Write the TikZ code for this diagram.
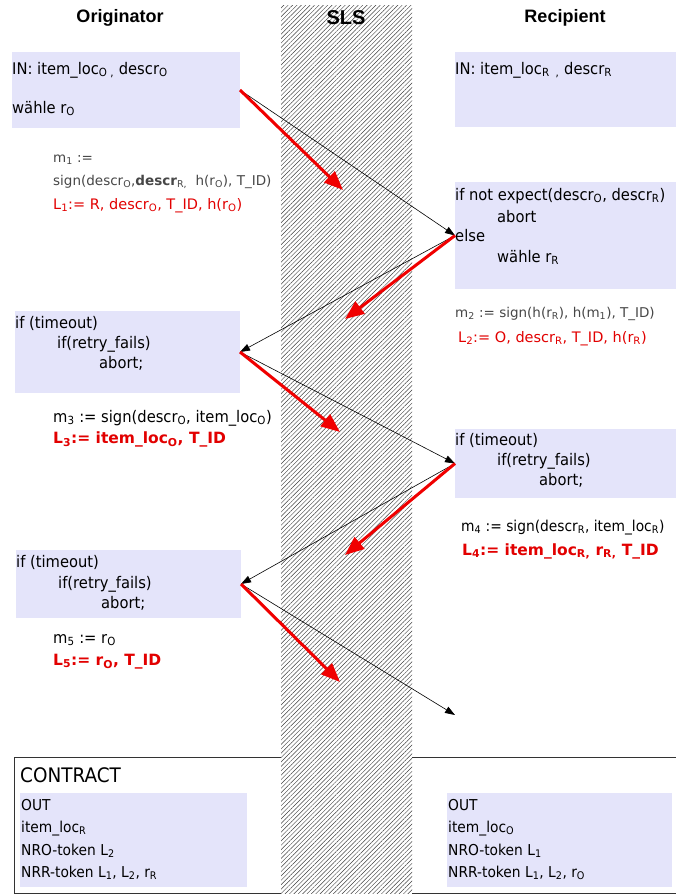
\documentclass[tikz,border=0pt]{standalone}
\usepackage{fontspec}
\setmainfont{DejaVu Sans}[FakeStretch=0.92]
\newfontfamily\verd{DejaVu Sans}
\newfontfamily\titlef{Liberation Sans}
\usetikzlibrary{arrows.meta,patterns.meta}
\definecolor{lav}{RGB}{228,228,250}
\definecolor{redtxt}{RGB}{226,0,0}
\definecolor{redarr}{RGB}{240,0,0}
\newcommand\sbs[1]{\textsubscript{#1}}
\begin{document}
\begin{tikzpicture}[x=1pt,y=-1pt,
  box/.style={fill=lav, inner sep=0pt, outer sep=0pt},
  txt/.style={anchor=base west, inner sep=0pt, font=\fontsize{16}{20}\selectfont},
  mtxt/.style={anchor=base west, inner sep=0pt, font=\verd\fontsize{13.5}{16}\selectfont, text=black!72},
  ltxt/.style={anchor=base west, inner sep=0pt, font=\verd\fontsize{14.5}{18}\selectfont, text=redtxt},
  lbold/.style={anchor=base west, inner sep=0pt, font=\verd\bfseries\fontsize{15.5}{18}\selectfont, text=redtxt},
  title/.style={anchor=base, inner sep=0pt, font=\titlef\bfseries\fontsize{18}{22}\selectfont},
  msg/.style={-{Triangle[length=10pt,width=7pt]}, line width=0.6pt, black},
  redmsg/.style={-{Triangle[length=19pt,width=15pt]}, line width=3pt, redarr},
  outtxt/.style={anchor=base west, inner sep=0pt, font=\fontsize{15}{18}\selectfont}]
\useasboundingbox (0,0) rectangle (676,894);
\clip (0,0) rectangle (676,894);
\fill[white] (0,0) rectangle (676,894);

% contract frame
\node[draw=black!80, line width=1pt, minimum width=676pt, minimum height=136pt, inner sep=0pt, anchor=north west] (contract) at (14,757) {};

% SLS hatched band
\fill[white] (281,5) rectangle (412,900);
\fill[pattern={Lines[angle=45,distance=3.1pt,line width=0.45pt]}, pattern color=black!75] (281,5) rectangle (412,900);

% titles
\node[title] (tO) at (120,23) {Originator};
\node[title, font=\titlef\bfseries\fontsize{20}{24}\selectfont] (tS) at (346,24) {SLS};
\node[title] (tR) at (565,23) {Recipient};

% boxes
\node[box, minimum width=228pt, minimum height=76pt] (ob1) at (126,90) {};
\node[box, minimum width=221pt, minimum height=75pt] (rb1) at (565.5,89.5) {};
\node[box, minimum width=221pt, minimum height=107pt] (rb2) at (565.5,235.5) {};
\node[box, minimum width=225pt, minimum height=82pt] (ob2) at (127.5,352) {};
\node[box, minimum width=221pt, minimum height=69pt] (rb3) at (565.5,463.5) {};
\node[box, minimum width=225pt, minimum height=68pt] (ob3) at (128.5,584) {};
\node[box, minimum width=227pt, minimum height=94pt] (oout) at (133.5,840) {};
\node[box, minimum width=225pt, minimum height=94pt] (rout) at (559.5,840) {};

% originator box 1
\node[txt] (a1) at (12,74) {IN: item\_loc\sbs{O ,} descr\sbs{O}};
\node[txt] (a2) at (12,113) {wähle r\sbs{O}};
% m1
\node[mtxt] (m1a) at (53,162) {m\sbs{1} :=};
\node[mtxt] (m1b) at (53,185) {sign(descr\sbs{O},\textbf{descr}\sbs{R,}\ \ h(r\sbs{O}), T\_ID)};
\node[ltxt] (l1) at (53,209) {L\sbs{1}:= R, descr\sbs{O}, T\_ID, h(r\sbs{O})};

% recipient box 1
\node[txt] (b1) at (455,74) {IN: item\_loc\sbs{R\ \ ,} descr\sbs{R}};
% recipient box 2
\node[txt] (b2) at (455,200) {if not expect(descr\sbs{O}, descr\sbs{R})};
\node[txt] (b3) at (497,222) {abort};
\node[txt] (b4) at (455,241) {else};
\node[txt] (b5) at (497,262) {wähle r\sbs{R}};
% m2
\node[mtxt] (m2) at (455,317) {m\sbs{2} := sign(h(r\sbs{R}), h(m\sbs{1}), T\_ID)};
\node[ltxt] (l2) at (458,342) {L\sbs{2}:= O, descr\sbs{R}, T\_ID, h(r\sbs{R})};

% originator box 2
\node[txt] (c1) at (15,328) {if (timeout)};
\node[txt] (c2) at (57,348) {if(retry\_fails)};
\node[txt] (c3) at (99,368) {abort;};
\node[txt] (m3) at (53,422) {m\sbs{3} := sign(descr\sbs{O}, item\_loc\sbs{O})};
\node[lbold] (l3) at (53,443) {L\sbs{3}:= item\_loc\sbs{O}, T\_ID};

% recipient box 3
\node[txt] (d1) at (455,445) {if (timeout)};
\node[txt] (d2) at (497,465) {if(retry\_fails)};
\node[txt] (d3) at (539,485) {abort;};
\node[txt, font=\fontsize{15}{18}\selectfont] (m4) at (461,531) {m\sbs{4} := sign(descr\sbs{R}, item\_loc\sbs{R})};
\node[lbold] (l4) at (462,555) {L\sbs{4}:= item\_loc\sbs{R,} r\sbs{R,} T\_ID};

% originator box 3
\node[txt] (e1) at (16,567) {if (timeout)};
\node[txt] (e2) at (58,588) {if(retry\_fails)};
\node[txt] (e3) at (101,608) {abort;};
\node[txt] (m5) at (53,643) {m\sbs{5} := r\sbs{O}};
\node[lbold] (l5) at (53,665) {L\sbs{5}:= r\sbs{O}, T\_ID};

% contract
\node[anchor=base west, inner sep=0pt, font=\fontsize{20}{24}\selectfont] (ct) at (20,782) {CONTRACT};
\node[outtxt] (f1) at (21,810) {OUT};
\node[outtxt] (f2) at (21,832) {item\_loc\sbs{R}};
\node[outtxt] (f3) at (21,855) {NRO-token L\sbs{2}};
\node[outtxt] (f4) at (21,877) {NRR-token L\sbs{1}, L\sbs{2}, r\sbs{R}};
\node[outtxt] (g1) at (448,810) {OUT};
\node[outtxt] (g2) at (448,832) {item\_loc\sbs{O}};
\node[outtxt] (g3) at (448,855) {NRO-token L\sbs{1}};
\node[outtxt] (g4) at (448,877) {NRR-token L\sbs{1}, L\sbs{2}, r\sbs{O}};

% arrow end points
\coordinate (r1) at (343,190);
\coordinate (r2) at (345,319);
\coordinate (r3) at (340,432);
\coordinate (r4) at (345,555);
\coordinate (r5) at (340,682);
\coordinate (fin) at (455,715);

% messages
\draw[msg] (ob1.east) -- (rb2.west);
\draw[msg] (rb2.west) -- (ob2.east);
\draw[msg] (ob2.east) -- (rb3.west);
\draw[msg] (rb3.west) -- (ob3.east);
\draw[msg] (ob3.east) -- (fin);
\draw[redmsg] (ob1.east) -- (r1);
\draw[redmsg] (rb2.west) -- (r2);
\draw[redmsg] (ob2.east) -- (r3);
\draw[redmsg] (rb3.west) -- (r4);
\draw[redmsg] (ob3.east) -- (r5);
\end{tikzpicture}
\end{document}
